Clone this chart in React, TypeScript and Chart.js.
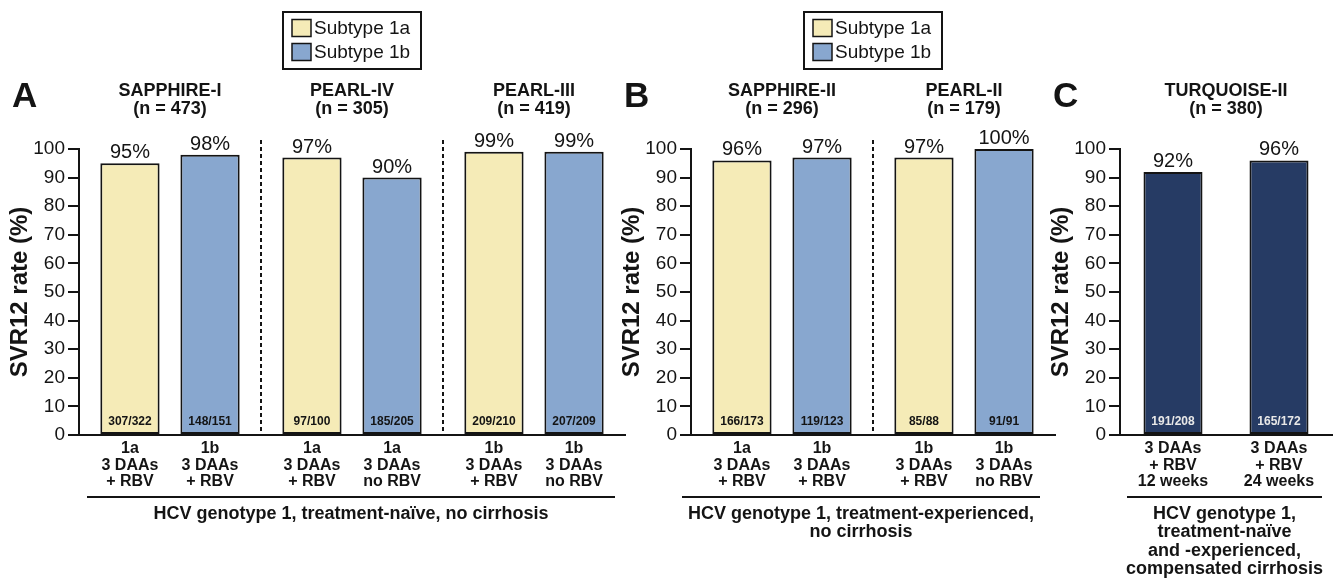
import React, { useEffect, useRef } from 'react';
import { Chart, registerables } from 'chart.js';

Chart.register(...registerables);

// ---------------- data ----------------
const legendLabels = ['Subtype 1a', 'Subtype 1b'];
const yAxisTitle = 'SVR12 rate (%)';

// Panel A
const aStudies = ['SAPPHIRE-I', 'PEARL-IV', 'PEARL-III'];
const aStudyN = ['(n = 473)', '(n = 305)', '(n = 419)'];
const aFirstValues = [95, 97, 99];
const aSecondValues = [98, 90, 99];
const aFirstCounts = ['307/322', '97/100', '209/210'];
const aSecondCounts = ['148/151', '185/205', '207/209'];
const aFirstLabels = ['1a|3 DAAs|+ RBV', '1a|3 DAAs|+ RBV', '1b|3 DAAs|+ RBV'];
const aSecondLabels = ['1b|3 DAAs|+ RBV', '1a|3 DAAs|no RBV', '1b|3 DAAs|no RBV'];
const aCaption = ['HCV genotype 1, treatment-naïve, no cirrhosis'];

// Panel B
const bStudies = ['SAPPHIRE-II', 'PEARL-II'];
const bStudyN = ['(n = 296)', '(n = 179)'];
const bFirstValues = [96, 97];
const bSecondValues = [97, 100];
const bFirstCounts = ['166/173', '85/88'];
const bSecondCounts = ['119/123', '91/91'];
const bFirstLabels = ['1a|3 DAAs|+ RBV', '1b|3 DAAs|+ RBV'];
const bSecondLabels = ['1b|3 DAAs|+ RBV', '1b|3 DAAs|no RBV'];
const bCaption = ['HCV genotype 1, treatment-experienced,', 'no cirrhosis'];

// Panel C
const cStudies = ['TURQUOISE-II'];
const cStudyN = ['(n = 380)'];
const cCategories = ['3 DAAs|+ RBV|12 weeks', '3 DAAs|+ RBV|24 weeks'];
const cValues = [92, 96];
const cCounts = ['191/208', '165/172'];
const cCaption = ['HCV genotype 1,', 'treatment-naïve', 'and -experienced,', 'compensated cirrhosis'];

// ---------------- styles ----------------
const W = 1336;
const H = 579;
const FONT = '"Liberation Sans", Arial, Helvetica, sans-serif';
const INK = '#141414';
const YELLOW = '#F5EBB7';
const BLUE = '#88A7CF';
const NAVY = '#263B64';
const PLOT_TOP = 149;
const PLOT_BOTTOM = 435;
const Y_BOX = 79;

const panelPlugin = {
  id: 'panel',
  afterDraw(chart: any, _args: any, opts: any) {
    const { ctx, chartArea: ca } = chart;
    const xs = chart.scales.x;
    ctx.save();
    ctx.fillStyle = INK;
    ctx.strokeStyle = INK;

    // panel letter
    ctx.font = `bold 35px ${FONT}`;
    ctx.textAlign = 'left';
    ctx.textBaseline = 'alphabetic';
    ctx.fillText(opts.letter, ca.left - 67, 107);

    // study headers
    const nH = opts.headers.length;
    ctx.font = `bold 18px ${FONT}`;
    ctx.textAlign = 'center';
    opts.headers.forEach((h: string, i: number) => {
      const x = ca.left + ((i + 0.5) * (ca.right - ca.left)) / nH;
      ctx.fillText(h, x, 96);
      ctx.fillText(opts.headerN[i], x, 114);
    });

    // legend
    if (opts.legend) {
      const bw = 138;
      const bx = (ca.left + ca.right) / 2 - bw / 2;
      const by = 12;
      ctx.lineWidth = 2;
      ctx.strokeRect(bx, by, bw, 57);
      ctx.font = `19px ${FONT}`;
      ctx.textAlign = 'left';
      ctx.textBaseline = 'middle';
      chart.data.datasets.forEach((ds: any, i: number) => {
        const cy = 28 + i * 24;
        ctx.fillStyle = ds.backgroundColor;
        ctx.fillRect(bx + 9, cy - 8.5, 19, 17);
        ctx.lineWidth = 1.5;
        ctx.strokeRect(bx + 9, cy - 8.5, 19, 17);
        ctx.fillStyle = INK;
        ctx.fillText(legendLabels[i], bx + 31, cy + 1);
      });
    }

    // dashed dividers between studies
    if (opts.dividers) {
      ctx.lineWidth = 2;
      ctx.setLineDash([4, 3]);
      for (let i = 1; i < chart.data.labels.length; i++) {
        const x = Math.round((xs.getPixelForValue(i - 1) + xs.getPixelForValue(i)) / 2);
        ctx.beginPath();
        ctx.moveTo(x, 140);
        ctx.lineTo(x, ca.bottom);
        ctx.stroke();
      }
      ctx.setLineDash([]);
    }

    // bar annotations
    chart.data.datasets.forEach((ds: any, d: number) => {
      const meta = chart.getDatasetMeta(d);
      meta.data.forEach((bar: any, i: number) => {
        const v = ds.data[i];
        ctx.textAlign = 'center';
        ctx.fillStyle = INK;
        ctx.font = `20px ${FONT}`;
        ctx.textBaseline = 'alphabetic';
        ctx.fillText(`${v}%`, bar.x, bar.y - 5);

        ctx.font = `bold 12px ${FONT}`;
        ctx.textBaseline = 'middle';
        ctx.fillStyle = ds.countColor;
        ctx.fillText(ds.counts[i], bar.x, ca.bottom - 13);

        ctx.fillStyle = INK;
        ctx.font = `bold 16px ${FONT}`;
        ds.barLabels[i].split('|').forEach((line: string, k: number) => {
          ctx.fillText(line, bar.x, ca.bottom + 14 + k * 16.5);
        });
      });
    });

    // separator + caption
    const [s0, s1] = opts.sep;
    ctx.lineWidth = 2;
    ctx.beginPath();
    ctx.moveTo(s0, 497);
    ctx.lineTo(s1, 497);
    ctx.stroke();
    ctx.font = `bold 18px ${FONT}`;
    ctx.textAlign = 'center';
    ctx.textBaseline = 'middle';
    opts.caption.forEach((line: string, k: number) => {
      ctx.fillText(line, (s0 + s1) / 2, 514 + k * 18.3);
    });
    ctx.restore();
  },
};

function makeConfig(p: any) {
  return {
    type: 'bar',
    data: { labels: p.labels, datasets: p.datasets },
    plugins: [panelPlugin],
    options: {
      responsive: false,
      animation: false,
      devicePixelRatio: 1,
      events: [],
      layout: {
        padding: {
          left: p.left - Y_BOX,
          right: W - p.right,
          top: PLOT_TOP,
          bottom: H - PLOT_BOTTOM,
        },
      },
      datasets: {
        bar: {
          categoryPercentage: p.catPct,
          barPercentage: p.barPct,
          borderWidth: 2,
          borderColor: INK,
          borderSkipped: false,
          clip: 6,
        },
      },
      scales: {
        x: {
          afterFit: (s: any) => {
            s.height = 0;
          },
          ticks: { display: false },
          grid: { display: false },
          border: { display: true, color: INK, width: 2 },
        },
        y: {
          min: 0,
          max: 100,
          afterFit: (s: any) => {
            s.width = Y_BOX;
          },
          ticks: { stepSize: 10, color: INK, padding: 3, font: { family: FONT, size: 19 } },
          grid: { display: true, drawOnChartArea: false, drawTicks: true, tickLength: 11, color: INK, lineWidth: 2 },
          border: { display: true, color: INK, width: 2 },
          title: {
            display: true,
            text: yAxisTitle,
            color: INK,
            font: { family: FONT, size: 24, weight: 'bold' },
            padding: { top: 5.6, bottom: 0 },
          },
        },
      },
      plugins: {
        legend: { display: false },
        tooltip: { enabled: false },
        title: { display: false },
        panel: {
          letter: p.letter,
          legend: p.legend,
          dividers: p.dividers,
          headers: p.headers,
          headerN: p.headerN,
          caption: p.caption,
          sep: p.sep,
        },
      },
    },
  };
}

const panels = [
  {
    letter: 'A',
    left: 79,
    right: 625,
    labels: aStudies,
    headers: aStudies,
    headerN: aStudyN,
    legend: true,
    dividers: true,
    catPct: 0.88,
    barPct: 0.74,
    caption: aCaption,
    sep: [87, 615],
    datasets: [
      { label: legendLabels[0], data: aFirstValues, backgroundColor: YELLOW, counts: aFirstCounts, barLabels: aFirstLabels, countColor: INK },
      { label: legendLabels[1], data: aSecondValues, backgroundColor: BLUE, counts: aSecondCounts, barLabels: aSecondLabels, countColor: INK },
    ],
  },
  {
    letter: 'B',
    left: 691,
    right: 1055,
    labels: bStudies,
    headers: bStudies,
    headerN: bStudyN,
    legend: true,
    dividers: true,
    catPct: 0.88,
    barPct: 0.74,
    caption: bCaption,
    sep: [682, 1040],
    datasets: [
      { label: legendLabels[0], data: bFirstValues, backgroundColor: YELLOW, counts: bFirstCounts, barLabels: bFirstLabels, countColor: INK },
      { label: legendLabels[1], data: bSecondValues, backgroundColor: BLUE, counts: bSecondCounts, barLabels: bSecondLabels, countColor: INK },
    ],
  },
  {
    letter: 'C',
    left: 1120,
    right: 1332,
    labels: cCategories,
    headers: cStudies,
    headerN: cStudyN,
    legend: false,
    dividers: false,
    catPct: 1,
    barPct: 0.557,
    caption: cCaption,
    sep: [1127, 1322],
    datasets: [
      { label: cStudies[0], data: cValues, backgroundColor: NAVY, counts: cCounts, barLabels: cCategories, countColor: '#E8E8E8' },
    ],
  },
];

function PanelCanvas({ panel }: { panel: any }) {
  const ref = useRef<HTMLCanvasElement | null>(null);
  useEffect(() => {
    if (!ref.current) return;
    const chart = new Chart(ref.current, makeConfig(panel) as any);
    return () => chart.destroy();
  }, [panel]);
  return <canvas ref={ref} width={W} height={H} style={{ position: 'absolute', left: 0, top: 0 }} />;
}

export default function App() {
  return (
    <div style={{ position: 'fixed', left: 0, top: 0, width: W, height: H, background: '#fff', overflow: 'hidden' }}>
      {panels.map((p) => (
        <PanelCanvas key={p.letter} panel={p} />
      ))}
    </div>
  );
}
